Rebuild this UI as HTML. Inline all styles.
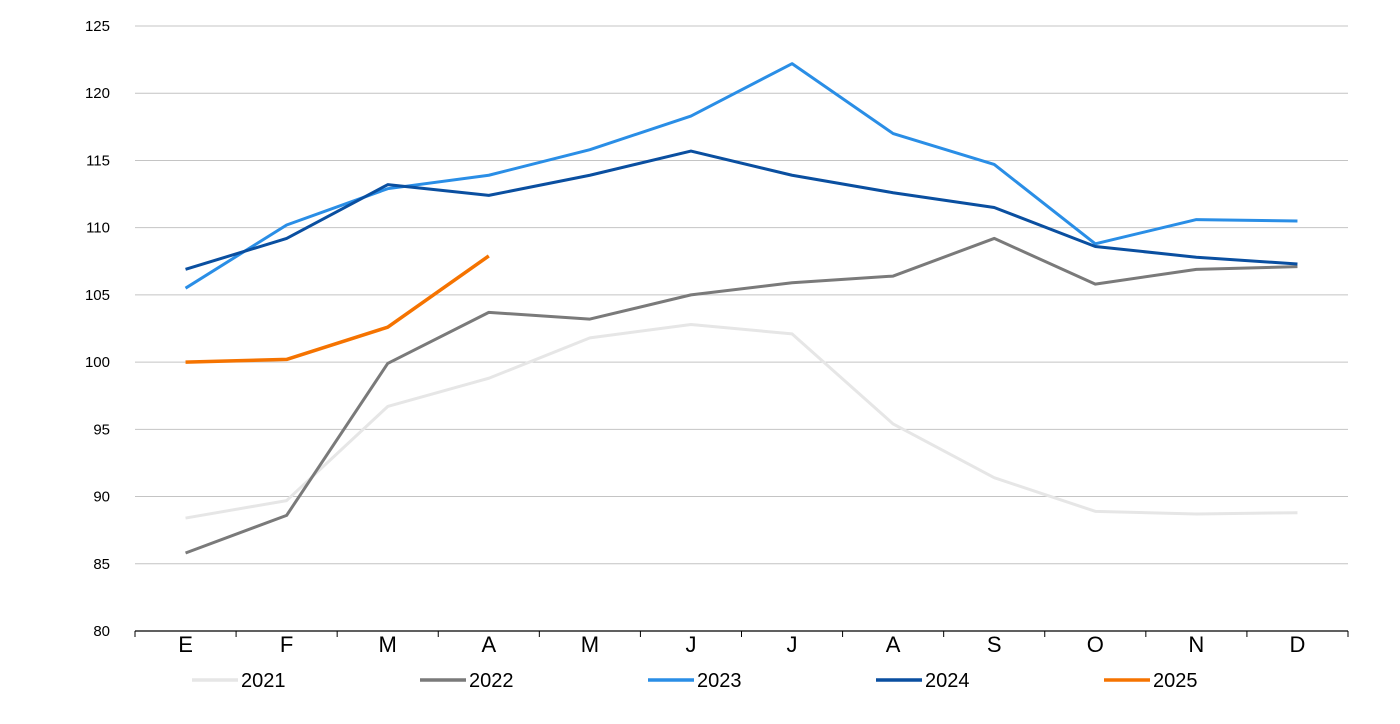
<!DOCTYPE html>
<html><head><meta charset="utf-8"><style>
body{margin:0;background:#fff;font-family:"Liberation Sans",sans-serif;}
svg{display:block}
</style></head><body>
<svg id="chart" width="1400" height="724" xmlns="http://www.w3.org/2000/svg"></svg>
<script>
const categories=["E","F","M","A","M","J","J","A","S","O","N","D"];
const yTicks=[80,85,90,95,100,105,110,115,120,125];
const seriesNames=["2021","2022","2023","2024","2025"];
const s2021=[88.4,89.7,96.7,98.8,101.8,102.8,102.1,95.4,91.4,88.9,88.7,88.8];
const s2022=[85.8,88.6,99.9,103.7,103.2,105.0,105.9,106.4,109.2,105.8,106.9,107.1];
const s2023=[105.5,110.2,112.9,113.9,115.8,118.3,122.2,117.0,114.7,108.8,110.6,110.5];
const s2024=[106.9,109.2,113.2,112.4,113.9,115.7,113.9,112.6,111.5,108.6,107.8,107.3];
const s2025=[100.0,100.2,102.6,107.9];
const colors=["#e6e6e6","#7a7a7a","#2a8ee6","#0a4fa0","#f57300"];
const data=[s2021,s2022,s2023,s2024,s2025];
const svg=document.getElementById('chart');
const NS="http://www.w3.org/2000/svg";
const L=135,R=1348,T=26,B=631,yMin=80,yMax=125;
const band=(R-L)/categories.length;
const x=i=>L+band*(i+0.5);
const y=v=>B-(v-yMin)/(yMax-yMin)*(B-T);
function mk(tag,attrs){const e=document.createElementNS(NS,tag);for(const k in attrs)e.setAttribute(k,attrs[k]);svg.appendChild(e);return e;}
yTicks.forEach(t=>{
  if(t!==yMin){const g=mk('line',{x1:L,x2:R,y1:y(t),y2:y(t),stroke:'#c4c4c4','stroke-width':1});
  
  }
  const tx=mk('text',{x:110,y:y(t)+5,'text-anchor':'end','font-size':15,fill:'#000'});
  tx.textContent=t;
  
  
});
const ax=mk('line',{x1:L,x2:R,y1:B,y2:B,stroke:'#000','stroke-width':1.2});


for(let i=0;i<=categories.length;i++){
  const tk=mk('line',{x1:L+band*i,x2:L+band*i,y1:B,y2:B+6,stroke:'#000','stroke-width':1});
  
  
}
categories.forEach((c,i)=>{
  const tx=mk('text',{x:x(i),y:652,'text-anchor':'middle','font-size':22,fill:'#000'});
  tx.textContent=c;
  
  
});
data.forEach((s,k)=>{
  const p=mk('polyline',{points:s.map((v,i)=>x(i)+','+y(v)).join(' '),fill:'none',stroke:colors[k],'stroke-width':k===4?3.5:3,'stroke-linejoin':'round'});
  
  
});
seriesNames.forEach((n,k)=>{
  const lx=192+k*228;
  const ln=mk('line',{x1:lx,x2:lx+46,y1:680,y2:680,stroke:colors[k],'stroke-width':3.5});
  
  
  const tx=mk('text',{x:lx+49,y:687,'font-size':20,fill:'#000'});
  tx.textContent=n;
  
  
});
</script>
</body></html>
